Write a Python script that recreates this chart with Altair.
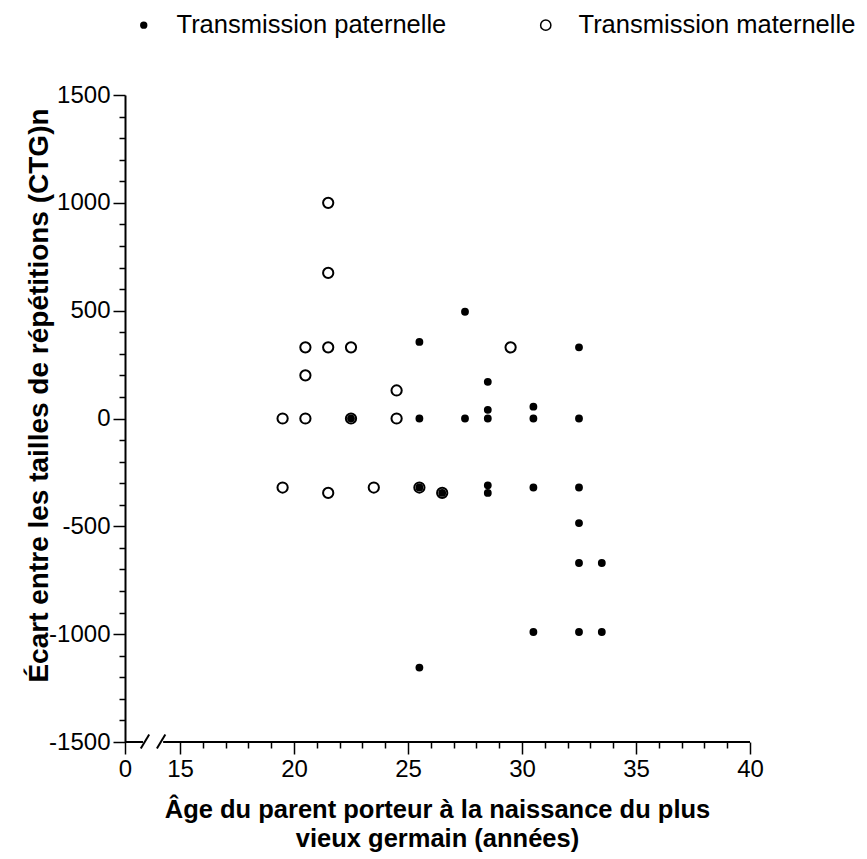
import altair as alt
import pandas as pd

PAT = "Transmission paternelle"
MAT = "Transmission maternelle"

# Paternal transmission (filled dots)
pat_age = [22.5, 25.5, 25.5, 25.5, 25.5, 26.5, 27.5, 27.5, 28.5, 28.5, 28.5, 28.5, 28.5,
           30.5, 30.5, 30.5, 30.5, 32.5, 32.5, 32.5, 32.5, 32.5, 32.5, 33.5, 33.5]
pat_val = [0, 355, 0, -320, -1155, -345, 495, 0, 170, 40, 0, -310, -345,
           55, 0, -320, -990, 330, 0, -320, -485, -670, -990, -670, -990]

# Maternal transmission (open circles)
mat_age = [21.5, 21.5, 20.5, 21.5, 22.5, 20.5, 24.5, 29.5, 19.5, 20.5, 22.5, 24.5,
           19.5, 21.5, 23.5, 25.5, 26.5]
mat_val = [1000, 675, 330, 330, 330, 200, 130, 330, 0, 0, 0, 0,
           -320, -345, -320, -320, -345]

x_ticks = [0] + list(range(15, 41))
y_ticks = list(range(-1500, 1501, 100))

# broken x-axis line segments and break marks
seg_x1 = [0, 10.4]
seg_x2 = [4.9, 40]
seg_y = [-1500, -1500]
brk_x1 = [4.3, 8.7]
brk_x2 = [6.6, 11.0]
brk_y1 = [-1530, -1530]
brk_y2 = [-1465, -1465]

df = pd.DataFrame({
    "age": mat_age + pat_age,
    "ecart": mat_val + pat_val,
    "serie": [MAT] * len(mat_age) + [PAT] * len(pat_age),
})
seg_df = pd.DataFrame({"age": seg_x1, "age2": seg_x2, "ecart": seg_y})
brk_df = pd.DataFrame({"age": brk_x1, "age2": brk_x2, "ecart": brk_y1, "ecart2": brk_y2})

FONT = "Liberation Sans"
x_title = ["Âge du parent porteur à la naissance du plus", "vieux germain (années)"]
y_title = "Écart entre les tailles de répétitions (CTG)n"

x_scale = alt.Scale(domain=[0, 15, 40], range=[0, 55, 625], nice=False, zero=False)
y_scale = alt.Scale(domain=[-1500, 1500], nice=False, zero=False)

x_axis = alt.Axis(
    values=x_ticks, title=x_title, domain=False, grid=False,
    labelExpr="datum.value % 5 === 0 ? '' + datum.value : ''",
    labelOverlap=False, labelFlush=False,
    tickSize={"condition": {"test": "datum.value % 5 === 0", "value": 12}, "value": 6},
    tickColor="black", tickWidth=1.5,
    labelFont=FONT, labelFontSize=24, labelColor="black", labelPadding=3,
    titleFont=FONT, titleFontSize=25.5, titleFontWeight="bold", titleColor="black",
    titleX=312, titleY=55, titleAlign="center", titleBaseline="top", titleLineHeight=29,
)
y_axis = alt.Axis(
    values=y_ticks, title=y_title, domain=True, grid=False,
    domainColor="black", domainWidth=2,
    labelExpr="datum.value % 500 === 0 ? '' + datum.value : ''",
    labelOverlap=False, labelFlush=False,
    tickSize={"condition": {"test": "datum.value % 500 === 0", "value": 12}, "value": 6},
    tickColor="black", tickWidth=1.5,
    labelFont=FONT, labelFontSize=24, labelColor="black", labelPadding=3,
    titleFont=FONT, titleFontSize=28, titleFontWeight="bold", titleColor="black",
    titleX=-86, titleY=300, titleAngle=-90, titleAlign="center", titleBaseline="middle",
)

x_enc = alt.X("age:Q", scale=x_scale, axis=x_axis)
y_enc = alt.Y("ecart:Q", scale=y_scale, axis=y_axis)

legend = alt.Legend(title=None, symbolStrokeWidth=1.5)

points = alt.Chart(df).mark_point(
    shape="circle", strokeWidth=2, opacity=1
).encode(
    x=x_enc,
    y=y_enc,
    fill=alt.Fill("serie:N", scale=alt.Scale(domain=[PAT, MAT], range=["black", "white"]),
                  legend=legend),
    stroke=alt.Stroke("serie:N", scale=alt.Scale(domain=[PAT, MAT], range=["black", "black"]),
                      legend=legend),
    size=alt.Size("serie:N", scale=alt.Scale(domain=[PAT, MAT], range=[34, 105]),
                  legend=legend),
)

axis_line = alt.Chart(seg_df).mark_rule(color="black", strokeWidth=2).encode(
    x=x_enc, x2="age2:Q", y=y_enc
)
breaks = alt.Chart(brk_df).mark_rule(color="black", strokeWidth=2).encode(
    x=x_enc, x2="age2:Q", y=y_enc, y2="ecart2:Q"
)

chart = alt.layer(axis_line, breaks, points).properties(
    width=625, height=647,
    autosize=alt.AutoSizeParams(type="none"),
    padding={"left": 125, "top": 95, "right": 117, "bottom": 117},
).configure_view(stroke=None).configure_legend(
    orient="none", legendX=6, legendY=-83, direction="horizontal",
    labelFont=FONT, labelFontSize=25.5, labelColor="black", labelLimit=400,
    labelOffset=20, columnPadding=86,
)

chart.save("out.html", embed_options={"renderer": "svg", "actions": False})
